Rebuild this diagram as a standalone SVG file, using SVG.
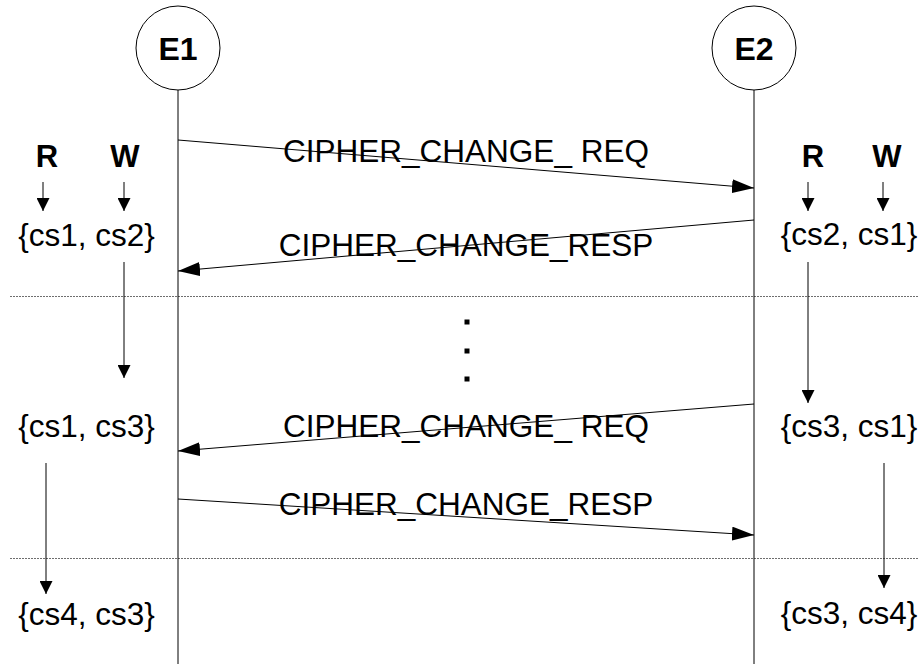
<svg xmlns="http://www.w3.org/2000/svg" width="919" height="664" viewBox="0 0 919 664">
  <style>
    .msg { font-family: "Liberation Sans", Arial, sans-serif; font-size: 31.5px; fill: #000; text-anchor: middle; }
    .set { font-family: "Liberation Sans", Arial, sans-serif; font-size: 31.5px; fill: #000; text-anchor: middle; }
    .hdr { font-family: "Liberation Sans", Arial, sans-serif; font-size: 31px; font-weight: bold; fill: #000; text-anchor: middle; }
    .ent { font-family: "Liberation Sans", Arial, sans-serif; font-size: 32px; font-weight: bold; fill: #000; text-anchor: middle; }
    .life { stroke: #000; stroke-width: 1; fill: none; }
    .flow { stroke: #000; stroke-width: 1; fill: none; marker-end: url(#bigHead); }
    .step { stroke: #000; stroke-width: 1; fill: none; marker-end: url(#smallHead); }
    .sep { stroke: #6e6e6e; stroke-width: 1; stroke-dasharray: 2 1; fill: none; }
  </style>
  <defs>
    <marker id="bigHead" markerUnits="userSpaceOnUse" markerWidth="22" markerHeight="14" refX="22" refY="7" orient="auto">
      <path d="M0,0 L22,7 L0,14 Z" fill="#000"/>
    </marker>
    <marker id="smallHead" markerUnits="userSpaceOnUse" markerWidth="13" markerHeight="13" refX="13" refY="6.5" orient="auto">
      <path d="M0,0 L13,6.5 L0,13 Z" fill="#000"/>
    </marker>
  </defs>

  <rect width="919" height="664" fill="#fff"/>

  <!-- separators between phases -->
  <g id="separators">
    <line class="sep" x1="10" y1="296.5" x2="919" y2="296.5"/>
    <line class="sep" x1="10" y1="558.5" x2="919" y2="558.5"/>
  </g>

  <!-- entity E1 with its lifeline -->
  <g id="E1">
    <circle cx="178" cy="48" r="42" fill="#fff" stroke="#000" stroke-width="1"/>
    <text class="ent" x="178" y="59.5">E1</text>
    <line class="life" x1="178" y1="90" x2="178" y2="664"/>
  </g>

  <!-- entity E2 with its lifeline -->
  <g id="E2">
    <circle cx="754" cy="48" r="42" fill="#fff" stroke="#000" stroke-width="1"/>
    <text class="ent" x="754" y="59.5">E2</text>
    <line class="life" x1="754" y1="90" x2="754" y2="664"/>
  </g>

  <!-- read / write headers -->
  <g id="rw-left">
    <text class="hdr" x="47" y="167">R</text>
    <text class="hdr" x="125" y="167">W</text>
  </g>
  <g id="rw-right">
    <text class="hdr" x="813" y="167">R</text>
    <text class="hdr" x="887" y="167">W</text>
  </g>

  <!-- cipher suite states -->
  <g id="state-e1-1"><text class="set" x="86.5" y="246">{cs1, cs2}</text></g>
  <g id="state-e2-1"><text class="set" x="849" y="245">{cs2, cs1}</text></g>
  <g id="state-e1-2"><text class="set" x="86.5" y="437">{cs1, cs3}</text></g>
  <g id="state-e2-2"><text class="set" x="849" y="437">{cs3, cs1}</text></g>
  <g id="state-e1-3"><text class="set" x="86.5" y="625">{cs4, cs3}</text></g>
  <g id="state-e2-3"><text class="set" x="849" y="624">{cs3, cs4}</text></g>

  <!-- ellipsis -->
  <g id="ellipsis" fill="#000">
    <rect x="464.5" y="319.5" width="5" height="5"/>
    <rect x="464.5" y="348.5" width="5" height="5"/>
    <rect x="464.5" y="376.5" width="5" height="5"/>
  </g>

  <!-- message labels -->
  <g id="labels">
    <text class="msg" x="466" y="162">CIPHER_CHANGE_ REQ</text>
    <text class="msg" x="466" y="256">CIPHER_CHANGE_RESP</text>
    <text class="msg" x="466" y="437">CIPHER_CHANGE_ REQ</text>
    <text class="msg" x="466" y="515">CIPHER_CHANGE_RESP</text>
  </g>

  <!-- connectors -->
  <g id="connectors">
    <line class="flow" x1="178" y1="140" x2="754" y2="188"/>
    <line class="flow" x1="754" y1="220" x2="178" y2="271"/>
    <line class="flow" x1="754" y1="404" x2="178" y2="451"/>
    <line class="flow" x1="178" y1="499" x2="754" y2="535"/>

    <line class="step" x1="43" y1="182" x2="43" y2="211"/>
    <line class="step" x1="124" y1="182" x2="124" y2="211"/>
    <line class="step" x1="808" y1="182" x2="808" y2="211"/>
    <line class="step" x1="883" y1="182" x2="883" y2="211"/>

    <line class="step" x1="124" y1="262" x2="124" y2="378"/>
    <line class="step" x1="808" y1="262" x2="808" y2="403"/>
    <line class="step" x1="46" y1="463" x2="46" y2="594"/>
    <line class="step" x1="884" y1="463" x2="884" y2="588" stroke="#808080"/>
  </g>
</svg>
